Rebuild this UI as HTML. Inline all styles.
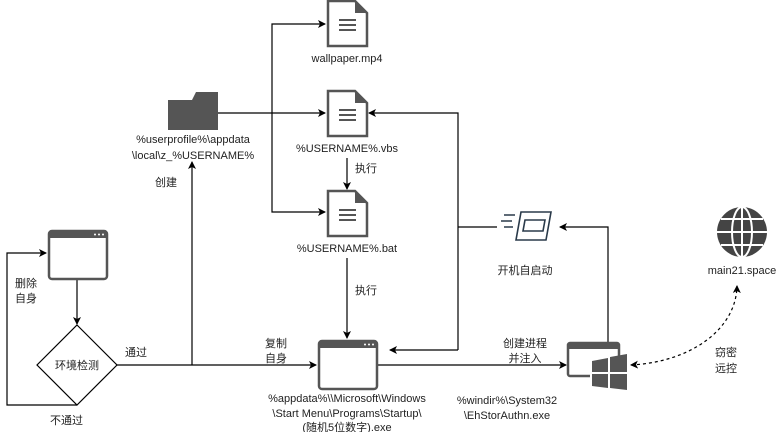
<!DOCTYPE html>
<html><head><meta charset="utf-8"><style>
body{margin:0;background:#fff;}
svg text{font-family:"Liberation Sans","Noto Sans CJK SC",sans-serif;font-size:11px;fill:#222;}
</style></head><body>
<svg width="784" height="432" viewBox="0 0 784 432" xmlns="http://www.w3.org/2000/svg">
<defs>
<marker id="a" markerWidth="8" markerHeight="8" refX="7" refY="4" orient="auto-start-reverse" markerUnits="userSpaceOnUse"><path d="M0,0 L8,4 L0,8 L2,4 Z" fill="#000"/></marker>
<g id="doc"><path d="M1,1 H28 L40,13 V46 H1 Z" fill="#fff" stroke="#555" stroke-width="2.5"/><path d="M28,1 V13 H40 Z" fill="#555"/><path d="M12,20 H29 M12,25 H29 M12,30 H29" stroke="#555" stroke-width="2"/></g>
<g id="win"><rect x="1" y="1" width="58" height="48" rx="3" fill="#fff" stroke="#555" stroke-width="2.5"/><rect x="1" y="1" width="58" height="7" fill="#555"/><circle cx="47" cy="4.5" r="1" fill="#fff"/><circle cx="51" cy="4.5" r="1" fill="#fff"/><circle cx="55" cy="4.5" r="1" fill="#fff"/></g>
</defs>
<g fill="none" stroke="#000" stroke-width="1.2">
<path d="M218,113 H325" marker-end="url(#a)"/>
<path d="M272,113 V24 H325" marker-end="url(#a)"/>
<path d="M272,113 V212 H325" marker-end="url(#a)"/>
<path d="M347,158 V189" marker-end="url(#a)"/>
<path d="M347,258 V338" marker-end="url(#a)"/>
<path d="M77,278 V324" marker-end="url(#a)"/>
<path d="M77,405 H7 V253 H46" marker-end="url(#a)"/>
<path d="M117,365 H316" marker-end="url(#a)"/>
<path d="M192,365 V162" marker-end="url(#a)"/>
<path d="M378,365 H566" marker-end="url(#a)"/>
<path d="M458,350 H390" marker-end="url(#a)"/>
<path d="M458,350 V113 H369" marker-end="url(#a)"/>
<path d="M458,227 H497"/>
<path d="M608,343 V227 H560" marker-end="url(#a)"/>
</g>
<path d="M77,325 L117,365 L77,405 L37,365 Z" fill="#fff" stroke="#000" stroke-width="1.2"/>
<text x="77" y="369" text-anchor="middle">环境检测</text>
<path d="M168,100 H218 V130 H168 Z M192,100 L196,92 H218 V100 Z" fill="#555"/>
<use href="#doc" x="327" y="0"/>
<use href="#doc" x="327" y="90"/>
<use href="#doc" x="327" y="190"/>
<use href="#win" x="48" y="230"/>
<use href="#win" x="318" y="340"/>
<rect x="568" y="343" width="51" height="33" rx="2" fill="#fff" stroke="#555" stroke-width="2.5"/>
<rect x="568" y="343" width="51" height="6" fill="#555"/>
<rect x="590" y="356" width="38" height="34" fill="#fff"/>
<path d="M592,361 L608,358 V372 H592 Z M610,357 L627,354 V372 H610 Z M592,374 H608 V388 L592,386 Z M610,374 H627 V390 L610,388 Z" fill="#555"/>
<path d="M631,365 C690,362 736,330 737,286" fill="none" stroke="#000" stroke-width="1.2" stroke-dasharray="3,3" marker-end="url(#a)" marker-start="url(#a)"/>
<g fill="none" stroke="#2a3a4a" stroke-width="1.6">
<path d="M521,212 H551 L546,240 H516 Z"/><path d="M525,220 H545 L543,231 H523 Z"/>
<path d="M504,215 H515 M501,221 H512 M504,227 H513"/>
</g>
<circle cx="742" cy="232" r="25" fill="#444"/>
<g stroke="#fff" stroke-width="2" fill="none"><ellipse cx="742" cy="232" rx="10" ry="25"/><path d="M742,207 V257 M717,232 H767 M721,219 H763 M721,245 H763"/></g>
<g>
<text x="193" y="143" text-anchor="middle">%userprofile%\appdata</text>
<text x="193" y="159" text-anchor="middle">\local\z_%USERNAME%</text>
<text x="155" y="186">创建</text>
<text x="347" y="62" text-anchor="middle">wallpaper.mp4</text>
<text x="347" y="152" text-anchor="middle">%USERNAME%.vbs</text>
<text x="355" y="172">执行</text>
<text x="347" y="252" text-anchor="middle">%USERNAME%.bat</text>
<text x="355" y="294">执行</text>
<text x="15" y="287">删除</text><text x="15" y="302">自身</text>
<text x="50" y="424">不通过</text>
<text x="125" y="356">通过</text>
<text x="265" y="347">复制</text><text x="265" y="362">自身</text>
<text x="347" y="402" text-anchor="middle">%appdata%\\Microsoft\Windows</text>
<text x="347" y="417" text-anchor="middle">\Start Menu\Programs\Startup\</text>
<text x="347" y="431" text-anchor="middle">(随机5位数字).exe</text>
<text x="525" y="347" text-anchor="middle">创建进程</text><text x="525" y="362" text-anchor="middle">并注入</text>
<text x="507" y="404" text-anchor="middle">%windir%\System32</text>
<text x="507" y="419" text-anchor="middle">\EhStorAuthn.exe</text>
<text x="525" y="274" text-anchor="middle">开机自启动</text>
<text x="742" y="274" text-anchor="middle">main21.space</text>
<text x="715" y="356">窃密</text><text x="715" y="372">远控</text>
</g>
</svg>
</body></html>
